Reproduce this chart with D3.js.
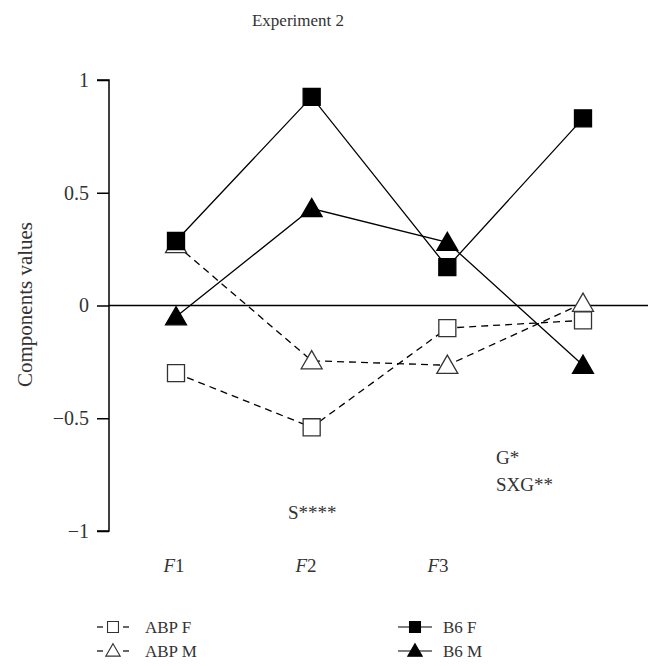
<!DOCTYPE html>
<html>
<head>
<meta charset="utf-8">
<script src="https://cdn.jsdelivr.net/npm/d3@7"></script>
<style>
  body { margin: 0; background: #fff; }
  svg text { font-family: "Liberation Serif", "DejaVu Serif", serif; fill: #333; }
</style>
</head>
<body>
<div id="chart"></div>
<script>
// data
const factors = ['F1', 'F2', 'F3', 'F4']
const labelledFactors = ['F1', 'F2', 'F3']   // F4 has no label in the figure
const abpF = [-0.30, -0.54, -0.10, -0.066]
const abpM = [0.27, -0.245, -0.265, 0.01]
const b6F = [0.286, 0.925, 0.17, 0.83]
const b6M = [-0.05, 0.43, 0.28, -0.265]
const yTicks = [1, 0.5, 0, -0.5, -1]

const width = 651, height = 666
const svg = d3.select('#chart').append('svg')
    .attr('width', width)
    .attr('height', height)

const x = d3.scalePoint().domain(factors).range([176, 583])
// the factor labels sit a little left of the points in the original
const xLabel = d3.scalePoint().domain(labelledFactors).range([174, 438])
const y = d3.scaleLinear().domain([-1, 1]).range([531, 80])

// title
svg.append('text')
    .attr('x', 298).attr('y', 26)
    .attr('text-anchor', 'middle')
    .style('font-size', '17px')
    .text('Experiment 2')

// y axis
const yAxis = d3.axisLeft(y)
    .tickValues(yTicks)
    .tickSize(12)
    .tickFormat(d => d < 0 ? '\u2212' + Math.abs(d) : d)

const gy = svg.append('g')
    .attr('transform', 'translate(109,0)')
    .call(yAxis)
gy.select('.domain').attr('d', `M-12,${y(1)}H0V${y(-1)}H-12`).attr('stroke', '#000').attr('stroke-width', 1.5)
gy.selectAll('.tick line').attr('stroke', '#000').attr('stroke-width', 1.5)
gy.selectAll('.tick text')
    .attr('x', -20)
    .style('font-size', '20px')
    .style('font-family', '"Liberation Serif", serif')
    .attr('fill', '#333')

svg.append('text')
    .attr('transform', `translate(32,${y(0) - 1}) rotate(-90)`)
    .attr('text-anchor', 'middle')
    .style('font-size', '21px')
    .text('Components values')

// zero line
svg.append('line')
    .attr('x1', 109).attr('x2', 648)
    .attr('y1', y(0)).attr('y2', y(0))
    .attr('stroke', '#000').attr('stroke-width', 1.5)

// x labels
labelledFactors.forEach(f => {
    const t = svg.append('text')
        .attr('x', xLabel(f)).attr('y', 572)
        .attr('text-anchor', 'middle')
        .style('font-size', '19px')
    t.append('tspan').style('font-style', 'italic').text('F')
    t.append('tspan').text(f.slice(1))
})

// annotations
svg.append('text').attr('x', 288).attr('y', 519).style('font-size', '19px').text('S****')
svg.append('text').attr('x', 496).attr('y', 464).style('font-size', '19px').text('G*')
svg.append('text').attr('x', 496).attr('y', 491).style('font-size', '19px').text('SXG**')

const series = [
    { name: 'ABP M', values: abpM, dashed: true, shape: d3.symbolTriangle, fill: '#fff' },
    { name: 'ABP F', values: abpF, dashed: true, shape: d3.symbolSquare, fill: '#fff' },
    { name: 'B6 M', values: b6M, dashed: false, shape: d3.symbolTriangle, fill: '#000' },
    { name: 'B6 F', values: b6F, dashed: false, shape: d3.symbolSquare, fill: '#000' }
]

const line = d3.line()
    .x((d, i) => x(factors[i]))
    .y(d => y(d))

series.forEach(s => {
    svg.append('path')
        .datum(s.values)
        .attr('d', line)
        .attr('fill', 'none')
        .attr('stroke', '#000')
        .attr('stroke-width', 1.3)
        .attr('stroke-dasharray', s.dashed ? '7,5' : null)
})

function symbolPath(shape, size) {
    return d3.symbol().type(shape).size(size)()
}

series.forEach(s => {
    const size = s.shape === d3.symbolSquare ? 290 : 190
    svg.selectAll(null)
        .data(s.values)
        .enter()
        .append('path')
        .attr('d', symbolPath(s.shape, size))
        .attr('transform', (d, i) => `translate(${x(factors[i])},${y(d) + (s.shape === d3.symbolTriangle ? 2 : 0)})`)
        .attr('fill', s.fill)
        .attr('stroke', s.fill === '#fff' ? '#333' : '#000')
        .attr('stroke-width', 1.3)
})

// legend
const legendItems = [
    { name: 'ABP F', shape: d3.symbolSquare, fill: '#fff', dashed: true, lx: 113, ly: 627 },
    { name: 'ABP M', shape: d3.symbolTriangle, fill: '#fff', dashed: true, lx: 113, ly: 651 },
    { name: 'B6 F', shape: d3.symbolSquare, fill: '#000', dashed: false, lx: 415, ly: 627 },
    { name: 'B6 M', shape: d3.symbolTriangle, fill: '#000', dashed: false, lx: 415, ly: 651 }
]

legendItems.forEach(it => {
    const g = svg.append('g').attr('transform', `translate(${it.lx},${it.ly})`)
    if (it.dashed) {
        g.append('line').attr('x1', -16).attr('x2', -10).attr('stroke', '#000').attr('stroke-width', 1.2)
        g.append('line').attr('x1', 10).attr('x2', 16).attr('stroke', '#000').attr('stroke-width', 1.2)
    } else {
        g.append('line').attr('x1', -17).attr('x2', 17).attr('stroke', '#000').attr('stroke-width', 1.2)
    }
    const sz = it.shape === d3.symbolSquare ? 120 : 90
    g.append('path')
        .attr('d', symbolPath(it.shape, sz))
        .attr('transform', `translate(0,${it.shape === d3.symbolTriangle ? 1 : 0})`)
        .attr('fill', it.fill)
        .attr('stroke', it.fill === '#fff' ? '#333' : '#000')
        .attr('stroke-width', 1.1)
    g.append('text')
        .attr('x', it.dashed ? 32 : 28).attr('y', 6)
        .style('font-size', '17px')
        .text(it.name)
})
</script>
</body>
</html>
